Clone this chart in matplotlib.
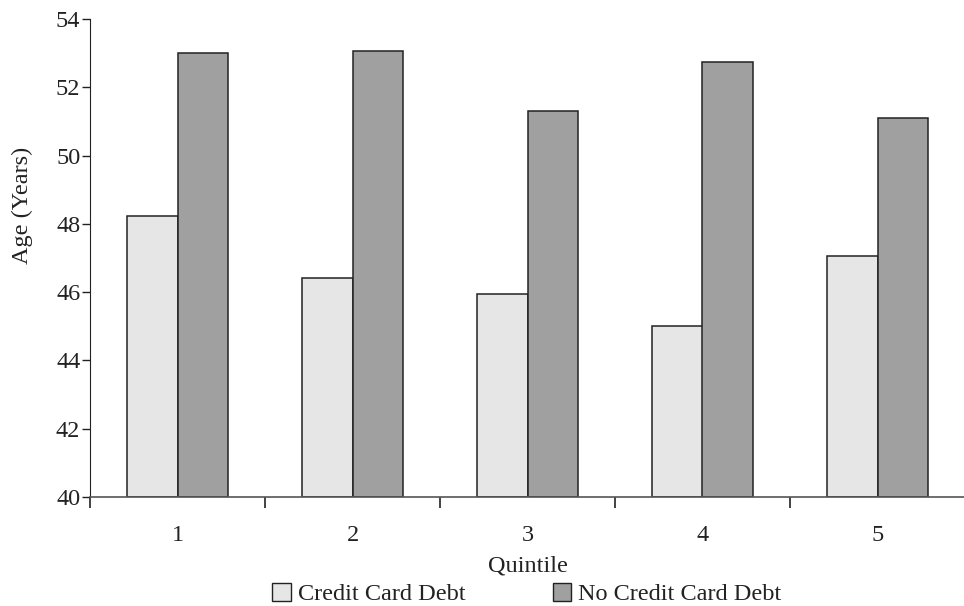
import matplotlib
matplotlib.use('Agg')
import matplotlib.pyplot as plt
from matplotlib.patches import Patch
import numpy as np

quintiles = ['1', '2', '3', '4', '5']
credit_debt = [48.23, 46.4, 45.95, 45.02, 47.07]
no_credit_debt = [53.0, 53.07, 51.3, 52.73, 51.09]
yticks = [40, 42, 44, 46, 48, 50, 52, 54]

plt.rcParams['font.family'] = ['Liberation Serif', 'DejaVu Serif']
plt.rcParams['font.size'] = 17.5

fig = plt.figure(figsize=(9.64, 6.06), dpi=100)
ax = fig.add_axes([90 / 964, 1 - 497 / 606, 875 / 964, (497 - 19) / 606])

x = np.arange(1, len(quintiles) + 1)
w = 0.29
ax.bar(x - w / 2, np.array(credit_debt) - 40, w, bottom=40, color='#e6e6e6',
       edgecolor='#222222', linewidth=1.1, label='Credit Card Debt')
ax.bar(x + w / 2, np.array(no_credit_debt) - 40, w, bottom=40, color='#a0a0a0',
       edgecolor='#222222', linewidth=1.1, label='No Credit Card Debt')

ax.set_xlim(0.5, len(quintiles) + 0.5)
ax.set_ylim(40, 54)
ax.set_yticks(yticks)
ax.tick_params(axis='y', direction='out', length=6, width=1, pad=1, colors='#222222', labelcolor='#222222')

# group separators as major ticks, labels as minor
ax.set_xticks(np.arange(0.5, len(quintiles) + 1, 1))
ax.set_xticklabels([])
ax.set_xticks(x, minor=True)
ax.set_xticklabels(quintiles, minor=True)
ax.tick_params(axis='x', which='major', direction='out', length=8, width=1.2, colors='#222222')
ax.tick_params(axis='x', which='minor', length=0, pad=20, labelcolor='#222222')

for s in ['top', 'right']:
    ax.spines[s].set_visible(False)
ax.spines['left'].set_color('#222222')
ax.spines['bottom'].set_color('#555555')
ax.spines['bottom'].set_linewidth(1.2)

ax.set_xlabel('Quintile', labelpad=7, color='#222222')
ax.set_ylabel('Age (Years)', color='#222222', va='center')
ax.yaxis.set_label_coords(-0.0777, 0.611)

handles = [Patch(facecolor='#e6e6e6', edgecolor='#222222', label='Credit Card Debt'),
           Patch(facecolor='#a0a0a0', edgecolor='#222222', label='No Credit Card Debt')]
fig.legend(handles=handles, loc='center', bbox_to_anchor=(527 / 964, 1 - 594 / 606),
           ncol=2, frameon=False, handlelength=0.75, handleheight=0.75, handletextpad=0.3,
           columnspacing=3.6, labelcolor='#222222', borderpad=0)

fig.savefig('out.png', dpi=100)
